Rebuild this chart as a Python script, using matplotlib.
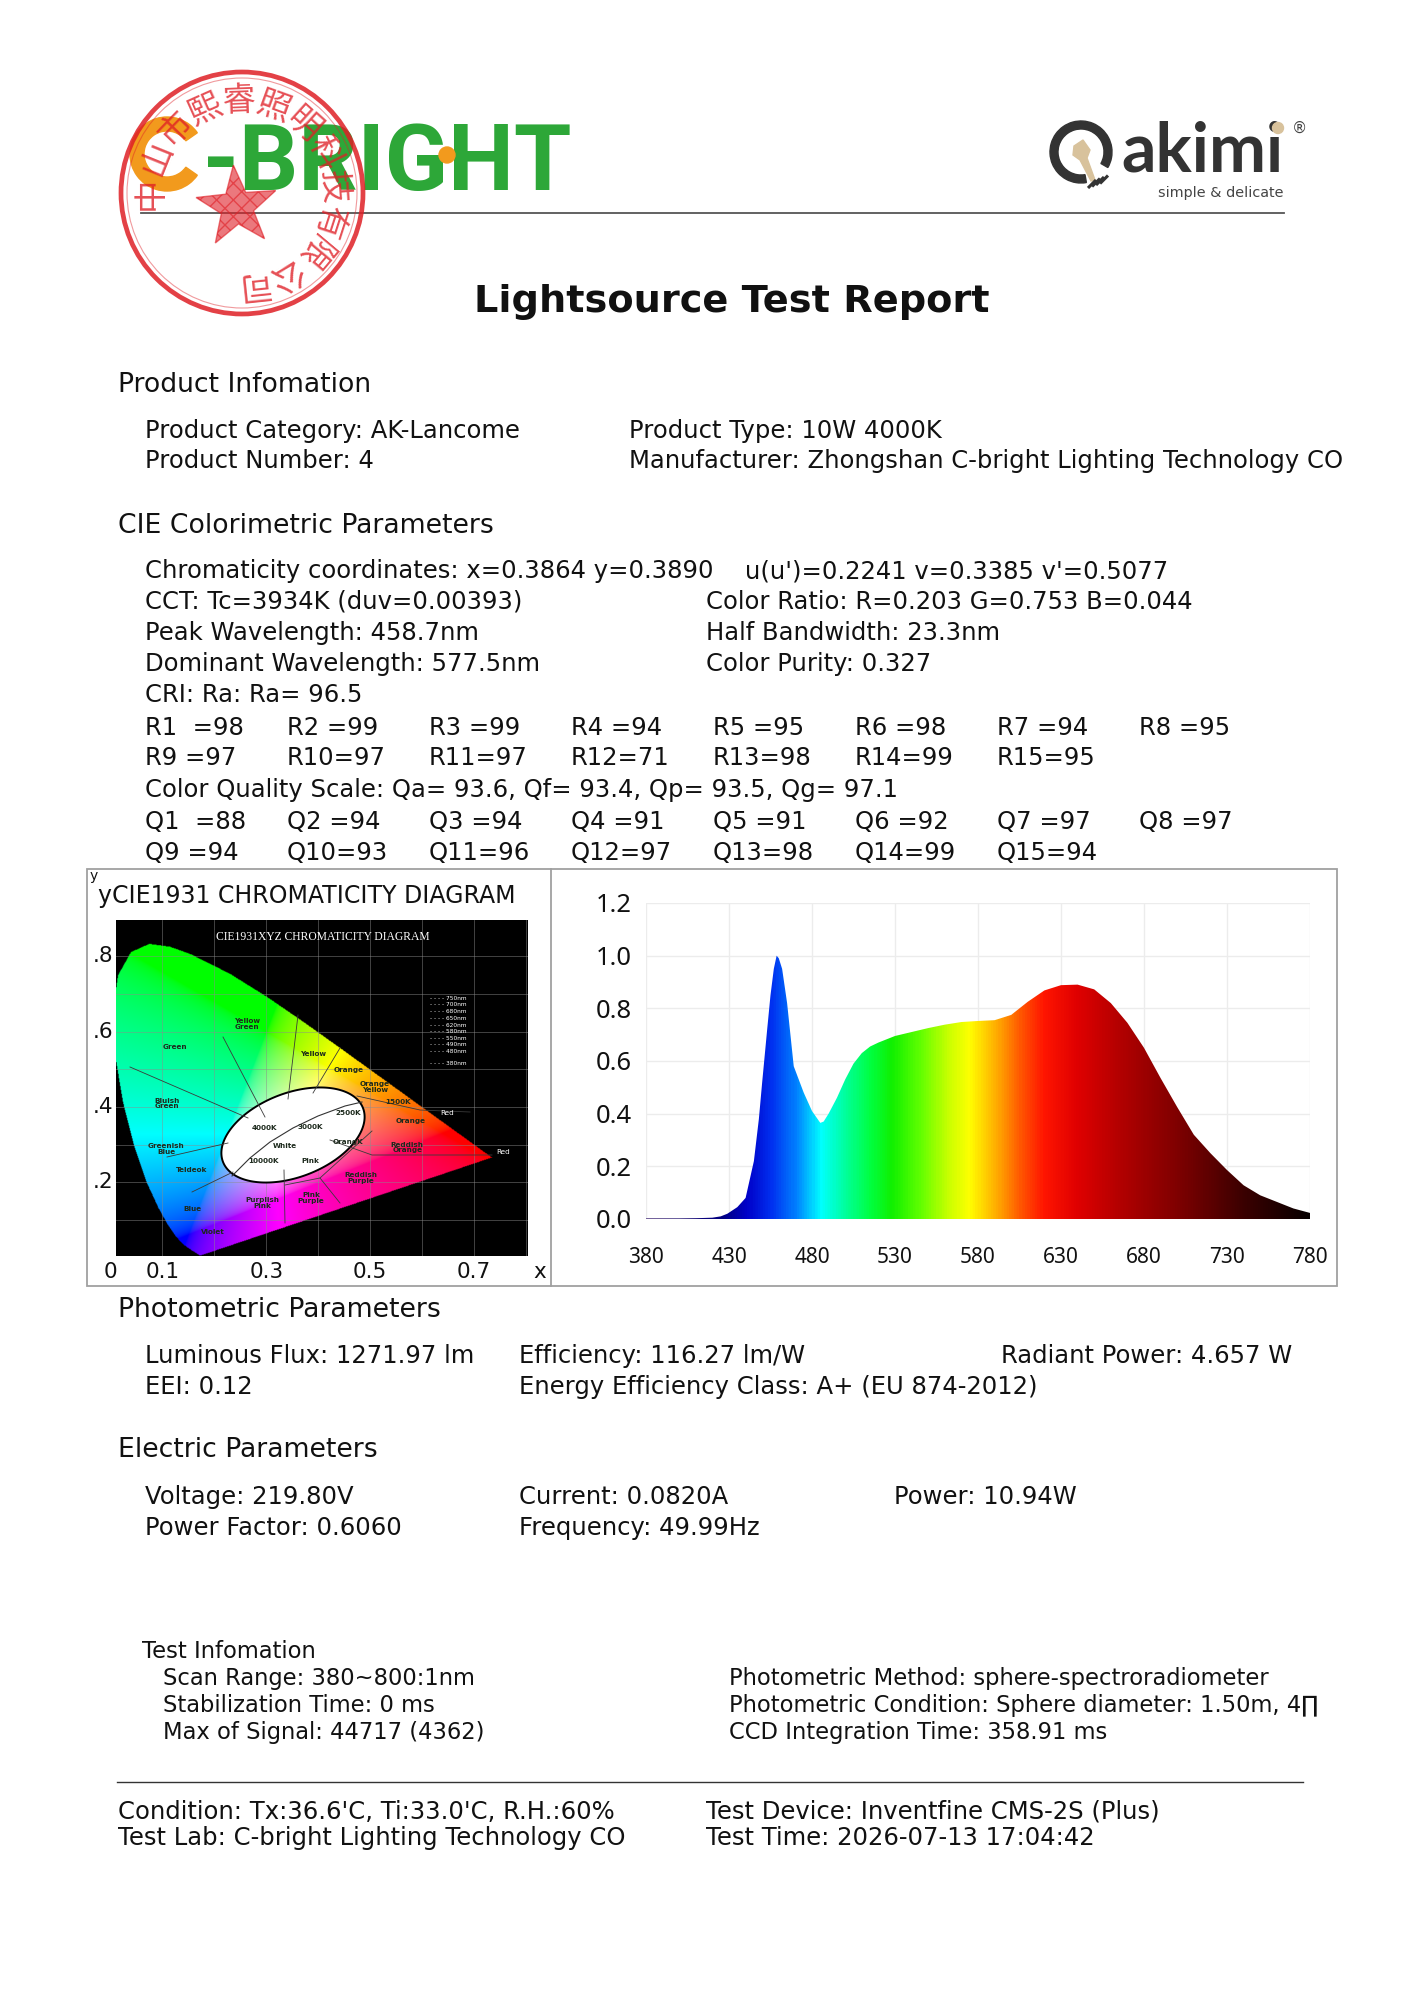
import numpy as np
import matplotlib
matplotlib.use("Agg")
import matplotlib.pyplot as plt
import matplotlib.transforms as mtrans
from matplotlib.patches import Circle, Wedge, Polygon, Rectangle
from matplotlib.colors import LinearSegmentedColormap, Normalize
from matplotlib.path import Path

plt.rcParams['font.family'] = ['DejaVu Sans']

W, H = 1414, 2000

# ---------------- report text / values ----------------
title = "Lightsource Test Report"
product_left = ["Product Category: AK-Lancome", "Product Number: 4"]
product_right = ["Product Type: 10W 4000K",
                 "Manufacturer: Zhongshan C-bright Lighting Technology CO"]
chroma_left = "Chromaticity coordinates: x=0.3864 y=0.3890"
chroma_right = "u(u')=0.2241 v=0.3385 v'=0.5077"
cie_left = ["CCT: Tc=3934K (duv=0.00393)", "Peak Wavelength: 458.7nm",
            "Dominant Wavelength: 577.5nm"]
cie_right = ["Color Ratio: R=0.203 G=0.753 B=0.044", "Half Bandwidth: 23.3nm",
             "Color Purity: 0.327"]
cri_line = "CRI: Ra: Ra= 96.5"
r_values = [98, 99, 99, 94, 95, 98, 94, 95, 97, 97, 97, 71, 98, 99, 95]
cqs_line = "Color Quality Scale: Qa= 93.6, Qf= 93.4, Qp= 93.5, Qg= 97.1"
q_values = [88, 94, 94, 91, 91, 92, 97, 97, 94, 93, 96, 97, 98, 99, 94]
photo_rows = [["Luminous Flux: 1271.97 lm", "Efficiency: 116.27 lm/W", "Radiant Power: 4.657 W"],
              ["EEI: 0.12", "Energy Efficiency Class: A+ (EU 874-2012)"]]
elec_rows = [["Voltage: 219.80V", "Current: 0.0820A", "Power: 10.94W"],
             ["Power Factor: 0.6060", "Frequency: 49.99Hz"]]
test_left = ["Scan Range: 380~800:1nm", "Stabilization Time: 0 ms",
             "Max of Signal: 44717 (4362)"]
test_right = ["Photometric Method: sphere-spectroradiometer",
              "Photometric Condition: Sphere diameter: 1.50m, 4\u220f",
              "CCD Integration Time: 358.91 ms"]
footer_left = ["Condition: Tx:36.6'C, Ti:33.0'C, R.H.:60%",
               "Test Lab: C-bright Lighting Technology CO"]
footer_right = ["Test Device: Inventfine CMS-2S (Plus)",
                "Test Time: 2026-07-13 17:04:42"]
stamp_chars = "中山市熙睿照明科技有限公司"

# ---------------- spectrum ----------------
spec_wl = [380, 390, 400, 410, 420, 425, 429, 435, 440, 445, 448, 450, 453, 455,
           457, 458.7, 460, 462, 465, 467, 469, 472, 475, 480, 485, 487, 490, 495,
           500, 505, 510, 515, 520, 530, 540, 550, 560, 570, 580, 590, 600, 610,
           620, 630, 640, 650, 660, 670, 680, 690, 700, 710, 720, 730, 740, 750,
           760, 770, 780]
spec_rel = [0.002, 0.002, 0.002, 0.003, 0.005, 0.010, 0.02, 0.045, 0.08, 0.22,
            0.38, 0.52, 0.72, 0.85, 0.95, 1.00, 0.99, 0.95, 0.82, 0.70, 0.58,
            0.53, 0.48, 0.41, 0.365, 0.37, 0.40, 0.46, 0.53, 0.59, 0.63, 0.655,
            0.67, 0.695, 0.71, 0.725, 0.738, 0.748, 0.752, 0.755, 0.775, 0.825,
            0.868, 0.888, 0.89, 0.872, 0.82, 0.745, 0.65, 0.535, 0.425, 0.32,
            0.25, 0.186, 0.128, 0.09, 0.065, 0.04, 0.023]
spec_xticks = [380, 430, 480, 530, 580, 630, 680, 730, 780]
spec_yticks = [0.0, 0.2, 0.4, 0.6, 0.8, 1.0, 1.2]

# ---------------- CIE 1931 spectral locus ----------------
locus_x = [0.1741, 0.1738, 0.1733, 0.1726, 0.1714, 0.1689, 0.1644, 0.1566, 0.1440,
           0.1355, 0.1241, 0.1096, 0.0913, 0.0687, 0.0454, 0.0235, 0.0082, 0.0039,
           0.0139, 0.0389, 0.0743, 0.1142, 0.1547, 0.2296, 0.3016, 0.3731, 0.4441,
           0.5125, 0.5752, 0.6270, 0.6658, 0.6915, 0.7079, 0.7190, 0.7260, 0.7300,
           0.7334, 0.7347]
locus_y = [0.0050, 0.0049, 0.0048, 0.0048, 0.0051, 0.0069, 0.0109, 0.0177, 0.0297,
           0.0399, 0.0578, 0.0868, 0.1327, 0.2007, 0.2950, 0.4127, 0.5384, 0.6548,
           0.7502, 0.8120, 0.8338, 0.8262, 0.8059, 0.7543, 0.6923, 0.6245, 0.5547,
           0.4866, 0.4242, 0.3725, 0.3340, 0.3083, 0.2920, 0.2809, 0.2740, 0.2700,
           0.2666, 0.2653]
cie_xticks = [0.0, 0.1, 0.3, 0.5, 0.7]
cie_xlabels = ["0", "0.1", "0.3", "0.5", "0.7"]
cie_yticks = [0.8, 0.6, 0.4, 0.2]
cie_ylabels = [".8", ".6", ".4", ".2"]
region_labels = [("Yellow\nGreen", 0.263, 0.620), ("Green", 0.124, 0.559),
                 ("Yellow", 0.390, 0.540), ("Orange", 0.459, 0.498),
                 ("Orange\nYellow", 0.509, 0.453), ("1500K", 0.553, 0.413),
                 ("Orange", 0.577, 0.362), ("Reddish\nOrange", 0.571, 0.293),
                 ("Bluish\nGreen", 0.109, 0.410), ("Greenish\nBlue", 0.107, 0.288),
                 ("Teldeok", 0.157, 0.232), ("Blue", 0.157, 0.129),
                 ("Violet", 0.197, 0.068), ("Purplish\nPink", 0.292, 0.145),
                 ("Pink\nPurple", 0.386, 0.158), ("Reddish\nPurple", 0.482, 0.211),
                 ("4000K", 0.297, 0.344), ("3000K", 0.384, 0.347),
                 ("2500K", 0.457, 0.384), ("10000K", 0.294, 0.256),
                 ("White", 0.336, 0.296), ("Pink", 0.384, 0.256),
                 ("OrangK", 0.457, 0.307)]
red_labels = [("Red", 0.648, 0.384), ("Red", 0.756, 0.280)]
nm_marks = ["750nm", "700nm", "680nm", "650nm", "620nm", "580nm", "550nm",
            "490nm", "480nm", "380nm"]
nm_ypos = [0.688, 0.672, 0.654, 0.635, 0.616, 0.600, 0.582, 0.565, 0.547, 0.515]

# ---------------- figure ----------------
fig = plt.figure(figsize=(W / 100, H / 100), dpi=100)
page = fig.add_axes([0, 0, 1, 1])
page.set_xlim(0, W)
page.set_ylim(H, 0)
page.axis('off')


def px_axes(x0, y0, x1, y1):
    return fig.add_axes([x0 / W, 1 - y1 / H, (x1 - x0) / W, (y1 - y0) / H])


HEAD, BODY, TEST = 19.2, 17.5, 16.3
INK = '#111111'


def txt(x, y, s, size=BODY, **kw):
    kw.setdefault('color', INK)
    page.text(x, y, s, fontsize=size, ha=kw.pop('ha', 'left'), va='baseline', **kw)


# ---- header logos ----
page.add_patch(Wedge((167, 154), 37, 35, 325, width=14, color='#f29a1d', zorder=3))
page.text(203, 190, "-BRIGHT", fontsize=67, family=['Roboto', 'DejaVu Sans'],
          fontweight='bold', color='#2da738', va='baseline', ha='left', zorder=3)
page.add_patch(Circle((447, 155), 8, color='#f29a1d', zorder=4))

page.add_patch(Wedge((1081, 152), 31, 80, 390, width=8, color='#333333'))
for k in range(4):
    page.plot([1088 + 4 * k, 1096 + 4 * k], [188 - k * 1.5, 180 - k * 1.5],
              color='#333333', lw=2.2, solid_capstyle='butt')
page.add_patch(Polygon([[1074, 146], [1083, 140], [1090, 150], [1087, 158],
                        [1095, 180], [1091, 181], [1080, 160], [1073, 155]],
                       closed=True, color='#d8c29c'))
page.text(1121, 172, "akimi", fontsize=49, family=['Lato', 'DejaVu Sans'],
          fontweight='bold', color='#333333', va='baseline', ha='left')
page.add_patch(Circle((1278, 128), 5.5, color='#d8c29c', zorder=4))
page.text(1158, 197, "simple & delicate", fontsize=10.4, color='#444444',
          va='baseline', ha='left')
page.text(1299, 128, "\u00ae", fontsize=11, color='#444444', va='center', ha='center')

page.plot([141, 1284], [213, 213], color='#555555', lw=1.3)

# ---- red stamp ----
red = '#df1f26'
scx, scy = 242, 193
page.add_patch(Circle((scx, scy), 121, fill=False, ec=red, lw=3.4, alpha=0.85, zorder=10))
page.add_patch(Circle((scx, scy), 115, fill=False, ec=red, lw=0.8, alpha=0.45, zorder=10))
for i, ch in enumerate(stamp_chars):
    a = 180 - 22 * i
    ar = np.deg2rad(a)
    page.text(scx + 92 * np.cos(ar), scy - 92 * np.sin(ar), ch, fontsize=24,
              rotation=a - 90, rotation_mode='anchor', ha='center', va='center',
              color=red, alpha=0.78, family=['Noto Sans CJK SC'], zorder=10)
star = []
for k in range(10):
    rr = 42 if k % 2 == 0 else 17
    ang = np.deg2rad(-95 + 36 * k)
    star.append([237 + rr * np.cos(ang), 207 + rr * np.sin(ang)])
page.add_patch(Polygon(star, closed=True, fc=red, ec=red, alpha=0.6, hatch='xx',
                       zorder=10))

# ---- title and text blocks ----
page.text(732, 312, title, fontsize=27.5, fontweight='bold', color=INK,
          ha='center', va='baseline')

txt(118, 392, "Product Infomation", HEAD)
for i in range(2):
    txt(145, 438 + 30 * i, product_left[i])
    txt(629, 438 + 30 * i, product_right[i])

txt(118, 533, "CIE Colorimetric Parameters", HEAD)
txt(145, 578, chroma_left)
txt(745, 578, chroma_right)
for i in range(3):
    txt(145, 609 + 31 * i, cie_left[i])
    txt(706, 609 + 31 * i, cie_right[i])
txt(145, 702, cri_line)

col_x = [145, 287, 429, 571, 713, 855, 997, 1139]


def index_label(prefix, i, v):
    sep = "  =" if i == 0 else (" =" if i < 9 else "=")
    return f"{prefix}{i + 1}{sep}{v}"


for i, v in enumerate(r_values):
    txt(col_x[i % 8], 735 + 30 * (i // 8), index_label("R", i, v))
txt(145, 797, cqs_line)
for i, v in enumerate(q_values):
    txt(col_x[i % 8], 829 + 31 * (i // 8), index_label("Q", i, v))

txt(118, 1317, "Photometric Parameters", HEAD)
photo_x = [145, 519, 1001]
for r, row in enumerate(photo_rows):
    for c, s in enumerate(row):
        txt(photo_x[c], 1363 + 31 * r, s)

txt(118, 1457, "Electric Parameters", HEAD)
elec_x = [145, 519, 894]
for r, row in enumerate(elec_rows):
    for c, s in enumerate(row):
        txt(elec_x[c], 1504 + 31 * r, s)

txt(142, 1658, "Test Infomation", TEST)
for i in range(3):
    txt(163, 1685 + 27 * i, test_left[i], TEST)
    txt(729, 1685 + 27 * i, test_right[i], TEST)

page.plot([117, 1303], [1782, 1782], color='#333333', lw=1.0)
for i in range(2):
    txt(118, 1819 + 26 * i, footer_left[i])
    txt(706, 1819 + 26 * i, footer_right[i])

# ---- chart frame ----
page.add_patch(Rectangle((87, 869), 1337 - 87, 1286 - 869, fill=False,
                         ec='#a0a0a0', lw=1.3))
page.plot([551, 551], [869, 1286], color='#a0a0a0', lw=1.3)
page.text(90, 880, "y", fontsize=10, color=INK, ha='left', va='baseline')
page.text(98, 903, "yCIE1931 CHROMATICITY DIAGRAM", fontsize=17, color=INK,
          ha='left', va='baseline')

# ---- CIE diagram ----
CX0, CXS = 110.5, 519.5
CY0, CYS = 1257.5, 376.5


def cxp(px):
    return (px - CX0) / CXS


def cyp(py):
    return (CY0 - py) / CYS


cie = px_axes(116, 920, 528, 1256)
x0, x1, y0, y1 = cxp(116), cxp(528), cyp(1256), cyp(920)
cie.set_facecolor('black')
gx = np.linspace(x0, x1, 620)
gy = np.linspace(y0, y1, 520)
GX, GY = np.meshgrid(gx, gy)
lp = Path(np.column_stack([locus_x, locus_y]))
inside = lp.contains_points(np.column_stack([GX.ravel(), GY.ravel()])).reshape(GX.shape)
sy = np.maximum(GY, 1e-4)
XYZ = np.stack([GX / sy, np.ones_like(GX), (1 - GX - GY) / sy], axis=-1)
M = np.array([[3.2406, -1.5372, -0.4986],
              [-0.9689, 1.8758, 0.0415],
              [0.0557, -0.2040, 1.0570]])
rgb = np.clip(XYZ @ M.T, 0, None)
rgb = rgb / (rgb.max(axis=-1, keepdims=True) + 1e-9)
rgb = np.where(rgb <= 0.0031308, 12.92 * rgb, 1.055 * rgb ** (1 / 2.4) - 0.055)
img = np.zeros_like(rgb)
img[inside] = np.clip(rgb[inside], 0, 1)
cie.imshow(img, origin='lower', extent=[x0, x1, y0, y1], aspect='auto',
           interpolation='bilinear', zorder=1)
for v in np.arange(0.1, 0.81, 0.1):
    cie.axvline(v, color='#8c8c8c', lw=0.6, alpha=0.55, zorder=2)
    cie.axhline(v, color='#8c8c8c', lw=0.6, alpha=0.55, zorder=2)


def px_pts(pts):
    return [[cxp(a), cyp(b)] for a, b in pts]


# ellipse of white region (pixel geometry of the embedded picture)
t = np.linspace(0, 2 * np.pi, 200)
th = np.deg2rad(21)
ex = 293 + 75 * np.cos(t) * np.cos(th) - 42 * np.sin(t) * np.sin(th)
ey = 1135 - (75 * np.cos(t) * np.sin(th) + 42 * np.sin(t) * np.cos(th))
cie.add_patch(Polygon(px_pts(zip(ex, ey)), closed=True, fc='white', ec='black',
                      lw=1.4, zorder=3))
planck = px_pts([(232, 1176), (250, 1158), (270, 1142), (293, 1128), (318, 1116),
                 (345, 1106), (362, 1102)])
cie.plot([p[0] for p in planck], [p[1] for p in planck], color='#333333', lw=0.8, zorder=4)
bounds = [[(298, 1015), (288, 1099)], [(223, 1037), (265, 1117)],
          [(130, 1067), (248, 1118)], [(167, 1157), (228, 1143)],
          [(340, 1048), (313, 1093)], [(192, 1192), (233, 1172)],
          [(284, 1170), (285, 1223)], [(285, 1185), (320, 1178), (340, 1203)],
          [(320, 1178), (372, 1131)], [(330, 1140), (372, 1155), (492, 1155)],
          [(357, 1096), (420, 1110), (470, 1112)]]
for seg in bounds:
    pts = px_pts(seg)
    cie.plot([p[0] for p in pts], [p[1] for p in pts], color='#3a3a3a', lw=0.6, zorder=4)
for s, lx, ly in region_labels:
    cie.text(lx, ly, s, fontsize=5.2, fontweight='bold', color='#1d2a1d',
             ha='center', va='center', linespacing=0.85, zorder=5)
for s, lx, ly in red_labels:
    cie.text(lx, ly, s, fontsize=5.2, color='white', ha='center', va='center', zorder=5)
for s, ly in zip(nm_marks, nm_ypos):
    cie.text(0.615, ly, "- - - - " + s, fontsize=4.2, color='white',
             ha='left', va='center', zorder=5)
cie.text(0.408, 0.852, "CIE1931XYZ CHROMATICITY DIAGRAM", fontsize=8.4,
         family=['Liberation Serif', 'DejaVu Serif'], color='white',
         ha='center', va='center', zorder=5)
cie.set_xlim(x0, x1)
cie.set_ylim(y0, y1)
cie.set_xticks([])
cie.set_yticks([])
for sp in cie.spines.values():
    sp.set_visible(False)

bx = mtrans.blended_transform_factory(cie.transData, page.transData)
by = mtrans.blended_transform_factory(page.transData, cie.transData)
for v, s in zip(cie_xticks, cie_xlabels):
    cie.text(v, 1272, s, transform=bx, fontsize=15.5, color=INK, ha='center',
             va='center', clip_on=False)
cie.text(540, 1272, "x", transform=page.transData, fontsize=15.5, color=INK,
         ha='center', va='center')
for v, s in zip(cie_yticks, cie_ylabels):
    cie.text(113, v, s, transform=by, fontsize=15.5, color=INK, ha='right',
             va='center', clip_on=False)

# ---- spectrum ----
spec = px_axes(646, 903, 1310, 1219)
stops = [(380, '#2a0870'), (425, '#000080'), (440, '#0000c8'), (455, '#0030f0'),
         (470, '#0080ff'), (485, '#00ffff'), (500, '#00ff9a'), (515, '#00ff40'),
         (528, '#10f000'), (545, '#60ff00'), (562, '#c8ff00'), (575, '#ffff00'),
         (592, '#ffa800'), (607, '#ff5000'), (620, '#ff1500'), (640, '#e00000'),
         (665, '#b40000'), (700, '#800000'), (740, '#3c0000'), (780, '#080000')]
spec_cmap = LinearSegmentedColormap.from_list(
    'spec', [((w - 380) / 400, c) for w, c in stops])
poly = spec.fill(np.r_[spec_wl, spec_wl[-1], spec_wl[0]], np.r_[spec_rel, 0, 0],
                 facecolor='none', edgecolor='none')[0]
grad = np.linspace(380, 780, 801)[None, :]
im = spec.imshow(grad, cmap=spec_cmap, norm=Normalize(380, 780),
                 extent=[380, 780, 0, 1.2], aspect='auto', zorder=2)
im.set_clip_path(poly)
spec.set_xlim(380, 780)
spec.set_ylim(0, 1.2)
spec.set_xticks(spec_xticks)
spec.set_yticks(spec_yticks)
spec.set_yticklabels([f"{v:.1f}" for v in spec_yticks])
spec.grid(color='#ececec', lw=1.0, zorder=0)
spec.set_axisbelow(True)
spec.axhline(0, color='#c4c4c4', lw=1.2, zorder=1)
spec.tick_params(length=0, colors=INK)
spec.tick_params(axis='y', labelsize=18.4, pad=10)
spec.tick_params(axis='x', labelsize=15, pad=20)
for lab in spec.get_xticklabels() + spec.get_yticklabels():
    lab.set_fontfamily(['Noto Sans', 'DejaVu Sans'])
for sp in spec.spines.values():
    sp.set_visible(False)

fig.savefig("out.png", dpi=100)
